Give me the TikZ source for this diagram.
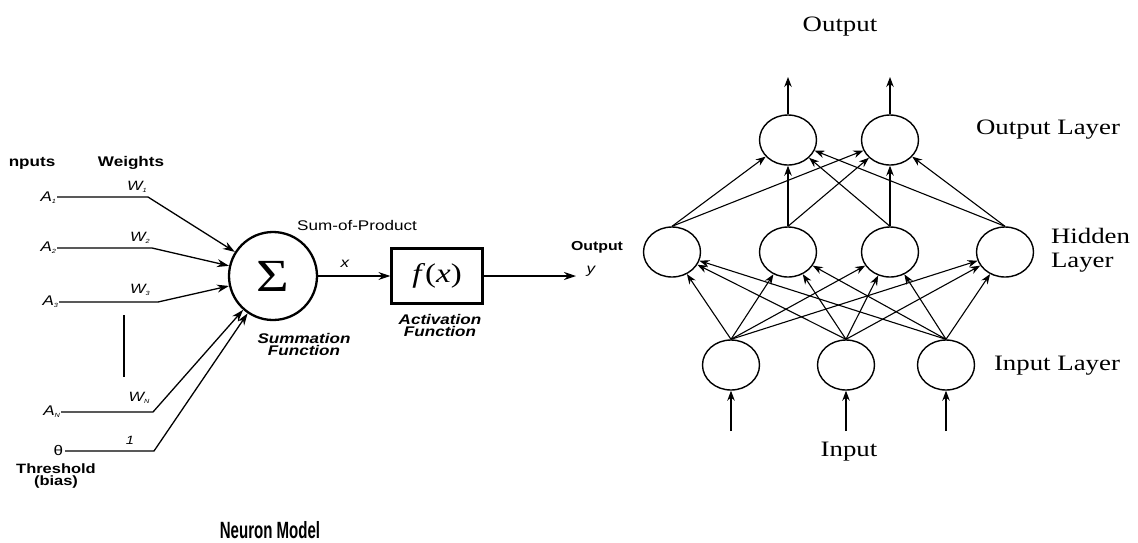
\documentclass[tikz,border=0pt]{standalone}
\usepackage{fontspec}
\setmainfont{Liberation Serif}
\setsansfont{Liberation Sans}
\usetikzlibrary{arrows.meta,shapes.geometric}
\newcommand\hsc[1]{\scalebox{1.22}[1]{#1}}
\newcommand\fsz[1]{\fontsize{#1}{#1}\selectfont}
\newcommand\subidx[1]{\raisebox{-2pt}{\fsz{6}#1}}
\begin{document}
\begin{tikzpicture}[x=1pt,y=-1pt,
  lbl/.style={inner sep=0pt,outer sep=0pt},
  sanslbl/.style={lbl,font=\sffamily\fsz{14}},
  boldlbl/.style={lbl,font=\sffamily\bfseries\fsz{14}},
  bilbl/.style={lbl,font=\sffamily\bfseries\itshape\fsz{14},align=center},
  itlbl/.style={lbl,font=\sffamily\itshape\fsz{14}},
  serlbl/.style={lbl,font=\rmfamily\fsz{22}},
  wire/.style={line width=1.3pt,line join=round},
  arr/.style={wire,-{Stealth[length=12pt,width=8pt]}},
  netarr/.style={line width=1.1pt,-{Stealth[length=10pt,width=7.5pt]}},
  neuron/.style={ellipse,draw,line width=1.4pt,minimum width=57pt,minimum height=50pt,inner sep=0pt}]
\useasboundingbox (0,0) rectangle (1138,542);
\fill[white] (0,0) rectangle (1138,542);

% ---------------- Neuron model ----------------
\node[boldlbl] (tin) at (32,163) {\hsc{nputs}};
\node[boldlbl] (tw) at (131,163) {\hsc{Weights}};

\node[itlbl,anchor=east] (A1) at (56,198) {\hsc{A\subidx{1}}};
\node[itlbl,anchor=east] (A2) at (56,248) {\hsc{A\subidx{2}}};
\node[itlbl,anchor=east] (A3) at (58,302) {\hsc{A\subidx{3}}};
\node[itlbl,anchor=east] (AN) at (60,412) {\hsc{A\subidx{N}}};
\node[lbl,font=\sffamily\fsz{14},anchor=east] (th) at (63,450) {\hsc{θ}};

\node[itlbl,font=\sffamily\itshape\fsz{13.5}] (W1) at (137,187) {\hsc{W\subidx{1}}};
\node[itlbl,font=\sffamily\itshape\fsz{13.5}] (W2) at (140,238) {\hsc{W\subidx{2}}};
\node[itlbl,font=\sffamily\itshape\fsz{13.5}] (W3) at (140,290) {\hsc{W\subidx{3}}};
\node[itlbl,font=\sffamily\itshape\fsz{13.5}] (WN) at (139,398) {\hsc{W\subidx{N}}};
\node[itlbl,font=\sffamily\itshape\fsz{12}] (one) at (130,440) {\hsc{1}};

\node[lbl,font=\sffamily\bfseries\fsz{13.5},align=center] (thr) at (56,476) {\hsc{Threshold}\\[-1pt]\hsc{(bias)}};

\node[circle,draw,line width=2.3pt,minimum size=88pt,inner sep=0pt] (S) at (273,276) {\hsc{\rmfamily\fsz{46}Σ}};
\node[lbl,font=\sffamily\fsz{14}] (sop) at (357,225) {\hsc{Sum-of-Product}};
\node[bilbl] (sumf) at (304,344) {\hsc{Summation}\\[-2pt]\hsc{Function}};

\node[draw,line width=2.3pt,minimum width=91pt,minimum height=55pt,inner sep=0pt] (F) at (437,276) {\hsc{\rmfamily\fsz{27}\textit{f}(\textit{x})}};
\node[bilbl] (actf) at (440,325) {\hsc{Activation}\\[-2pt]\hsc{Function}};
\node[itlbl] (xl) at (345,264) {\hsc{x}};
\node[lbl,font=\sffamily\bfseries\fsz{13}] (outl) at (597,247) {\hsc{Output}};
\node[itlbl] (yl) at (591,271) {\hsc{y}};
\node[lbl,font=\sffamily\bfseries\fsz{23.5}] (nm) at (270,530) {\scalebox{0.64}[1]{Neuron Model}};

\coordinate (s1) at (57,197); \coordinate (b1) at (148,197);
\coordinate (s2) at (57,248); \coordinate (b2) at (152,248);
\coordinate (s3) at (59,302); \coordinate (b3) at (158,302);
\coordinate (sN) at (61,412); \coordinate (bN) at (153,412);
\coordinate (sT) at (65,451); \coordinate (bT) at (154,451);
\coordinate (yend) at (576,276);
\coordinate (v1) at (124,315); \coordinate (v2) at (124,377);

\draw[arr] (s1) -- (b1) -- (S);
\draw[arr] (s2) -- (b2) -- (S);
\draw[arr] (s3) -- (b3) -- (S);
\draw[arr] (sN) -- (bN) -- (S);
\draw[arr] (sT) -- (bT) -- (S);
\draw[wire] (v1) -- (v2);
\draw[arr] (S) -- (F);
\draw[arr] (F) -- (yend);

% ---------------- Network ----------------
\node[neuron] (o1) at (788,140) {};
\node[neuron] (o2) at (890,140) {};
\node[neuron] (h1) at (672,252) {};
\node[neuron] (h2) at (788,252) {};
\node[neuron] (h3) at (890,252) {};
\node[neuron] (h4) at (1005,252) {};
\node[neuron] (i1) at (731,365) {};
\node[neuron] (i2) at (846,365) {};
\node[neuron] (i3) at (946,365) {};

\foreach \i in {1,2,3}
  \foreach \h in {1,2,3,4}
    \draw[netarr] (i\i.north) -- (h\h);
\foreach \h in {1,2,3,4}
  \foreach \o in {1,2}
    \draw[netarr] (h\h.north) -- (o\o);

\coordinate (oa1) at (788,77); \coordinate (oa2) at (890,77);
\draw[netarr] (o1.north) -- (oa1);
\draw[netarr] (o2.north) -- (oa2);
\coordinate (ia1) at (731,431); \coordinate (ia2) at (846,431); \coordinate (ia3) at (946,431);
\draw[netarr] (ia1) -- (i1.south);
\draw[netarr] (ia2) -- (i2.south);
\draw[netarr] (ia3) -- (i3.south);

\node[serlbl] (tout) at (840,27) {\hsc{Output}};
\node[serlbl] (tol) at (1048,130) {\hsc{Output Layer}};
\node[serlbl,anchor=west,align=left] (thl) at (1051,250) {\hsc{Hidden}\\[2pt]\hsc{Layer}};
\node[serlbl] (til) at (1057,366) {\hsc{Input Layer}};
\node[serlbl] (tinp) at (849,452) {\hsc{Input}};
\end{tikzpicture}
\end{document}
